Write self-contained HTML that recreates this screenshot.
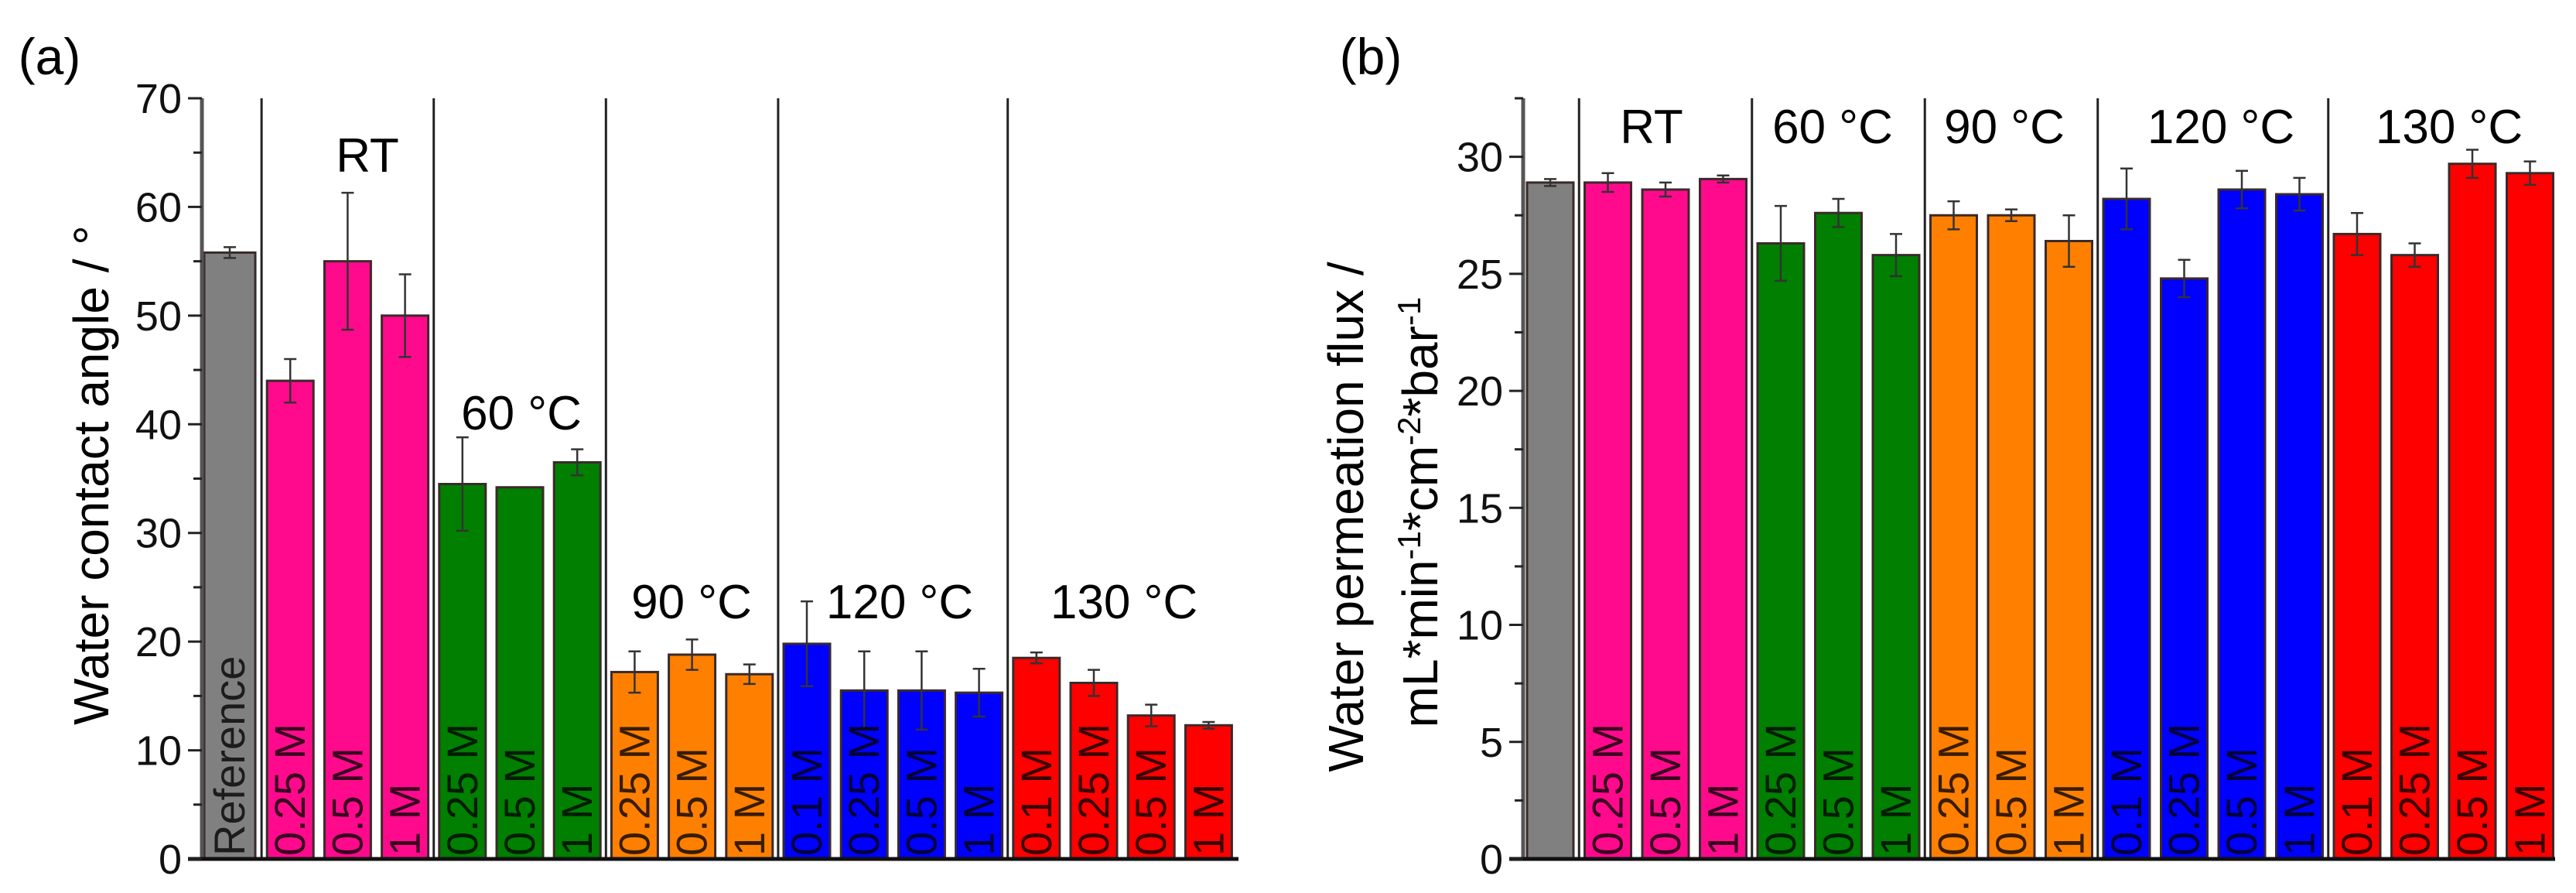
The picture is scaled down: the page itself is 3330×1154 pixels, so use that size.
<!DOCTYPE html>
<html><head><meta charset="utf-8"><style>
html,body{margin:0;padding:0;background:#fff;width:3330px;height:1154px;overflow:hidden}
svg{display:block;font-family:"Liberation Sans",Arial,sans-serif}
</style></head><body>
<svg id="fig" width="3330" height="1154" viewBox="0 0 3330 1154" xmlns="http://www.w3.org/2000/svg"></svg>
<script>
const categories = ["Reference","0.25 M","0.5 M","1 M","0.25 M","0.5 M","1 M","0.25 M","0.5 M","1 M","0.1 M","0.25 M","0.5 M","1 M","0.1 M","0.25 M","0.5 M","1 M"];
const groupColors = ["#808080","#ff0a8c","#ff0a8c","#ff0a8c","#007f00","#007f00","#007f00","#ff8000","#ff8000","#ff8000","#0000ff","#0000ff","#0000ff","#0000ff","#ff0000","#ff0000","#ff0000","#ff0000"];
const angleValues = [55.8,44,55,50,34.5,34.2,36.5,17.2,18.8,17,19.8,15.5,15.5,15.3,18.5,16.2,13.2,12.3];
const angleErrors = [0.5,2,6.3,3.8,4.3,0,1.2,1.9,1.4,0.9,3.9,3.6,3.6,2.2,0.5,1.2,1,0.3];
const fluxValues = [28.9,28.9,28.6,29.05,26.3,27.6,25.8,27.5,27.5,26.4,28.2,24.8,28.6,28.4,26.7,25.8,29.7,29.3];
const fluxErrors = [0.15,0.4,0.3,0.15,1.6,0.6,0.9,0.6,0.25,1.1,1.3,0.8,0.8,0.7,0.9,0.5,0.6,0.5];
const angleTicks = [0,10,20,30,40,50,60,70];
const fluxTicks = [0,5,10,15,20,25,30];
const groupNames = ["RT","60 °C","90 °C","120 °C","130 °C"];
const dividerAfter = [0,3,6,9,13];

const NS="http://www.w3.org/2000/svg";
const svg=document.getElementById('fig');
function mk(tag,attrs,parent){const e=document.createElementNS(NS,tag);for(const k in attrs)e.setAttribute(k,attrs[k]);(parent||svg).appendChild(e);return e;}

function panel(cfg){
  const g=mk('g',{});
  
  
  const y=v=>cfg.y0-(v-0)*(cfg.y0-cfg.yTopPx)/cfg.yMax;
  const xc=i=>cfg.c0+cfg.step*i;
  // dividers
  dividerAfter.forEach((d,k)=>{
    const xd=(xc(d)+xc(d+1))/2;
    const l=mk('line',{x1:xd,x2:xd,y1:cfg.yTopPx,y2:cfg.y0,stroke:'#222','stroke-width':3},g);
    
    
  });
  // bars
  cfg.vals.forEach((v,i)=>{
    const w=(i===0&&cfg.wideRef)?66:60;
    const x0=(i===0&&cfg.wideRef)?cfg.axisX+3:xc(i)-w/2;
    const r=mk('rect',{x:x0,y:y(v),width:w,height:cfg.y0-y(v),fill:groupColors[i],stroke:'#3a2a2a','stroke-width':3},g);
    
    
    const cx=x0+w/2;
    const e=cfg.errs[i];
    if(e>0){
      const eb=mk('path',{d:`M${cx},${y(v+e)}V${y(v-e)}M${cx-8},${y(v+e)}H${cx+8}M${cx-8},${y(v-e)}H${cx+8}`,stroke:'#333','stroke-width':2.5,fill:'none'},g);
      
      
    }
    if(i>0||cfg.refLabel){
      const t=mk('text',{x:0,y:0,transform:`translate(${cx+19},${cfg.y0-4}) rotate(-90)`,'font-size':56,fill:'#000','fill-opacity':0.78},g);
      t.textContent=categories[i];
      
      
    }
  });
  // axes
  const ax=mk('line',{x1:cfg.axisX,x2:cfg.axisX,y1:cfg.yTopPx,y2:cfg.y0,stroke:'#555','stroke-width':5},g);
  
  
  const bx=mk('line',{x1:cfg.axisX-18,x2:cfg.xEnd,y1:cfg.y0,y2:cfg.y0,stroke:'#111','stroke-width':5},g);
  
  
  cfg.ticks.forEach(v=>{
    const tk=mk('line',{x1:cfg.axisX-18,x2:cfg.axisX,y1:y(v),y2:y(v),stroke:'#222','stroke-width':3},g);
    
    
    const mv=v+cfg.minor;
    if(mv<=cfg.yMax+0.01){
      const mt=mk('line',{x1:cfg.axisX-11,x2:cfg.axisX,y1:y(mv),y2:y(mv),stroke:'#222','stroke-width':3},g);
      
      
    }
    const tl=mk('text',{x:cfg.axisX-26,y:y(v)+19,'font-size':54,'text-anchor':'end',fill:'#111'},g);
    tl.textContent=v;
    
    
  });
  // group labels
  groupNames.forEach((n,k)=>{
    const t=mk('text',{x:cfg.groupPos[k][0],y:cfg.groupPos[k][1]+22,'font-size':62,'text-anchor':'middle',fill:'#000'},g);
    t.textContent=n;
    
    
  });
  const pl=mk('text',{x:cfg.panelLabel[0],y:cfg.panelLabel[1]+22,'font-size':66,'text-anchor':'middle',fill:'#000'},g);
  pl.textContent=cfg.panelText;
  
  
  cfg.titles.forEach(tt=>{
    const t=mk('text',{x:0,y:0,transform:`translate(${tt[1]},${tt[2]}) rotate(-90)`,'font-size':64,'text-anchor':'middle',fill:'#000'},g);
    t.innerHTML=tt[0];
    
    
  });
}

panel({name:'panel-a-contact-angle',axisX:261,xEnd:1601,y0:1110,yTopPx:127,yMax:70,c0:301,step:74.2,
  vals:angleValues,errs:angleErrors,ticks:angleTicks,minor:5,wideRef:true,refLabel:true,
  groupPos:[[475,200],[674,533],[894,777],[1163,777],[1453,777]],panelLabel:[64,74],panelText:'(a)',
  titles:[['Water contact angle / °',140,614]]});
panel({name:'panel-b-water-flux',axisX:1969,xEnd:3303,y0:1110,yTopPx:127,yMax:32.5,c0:2004,step:74.5,
  vals:fluxValues,errs:fluxErrors,ticks:fluxTicks,minor:2.5,wideRef:false,refLabel:false,
  groupPos:[[2135,163],[2369,163],[2591,163],[2871,163],[3166,163]],panelLabel:[1772,74],panelText:'(b)',
  titles:[['Water permeation flux /',1762,668],['mL*min<tspan dy="-22" font-size="42">-1</tspan><tspan dy="22">*cm</tspan><tspan dy="-22" font-size="42">-2</tspan><tspan dy="22">*bar</tspan><tspan dy="-22" font-size="42">-1</tspan>',1858,662]]});
</script>
</body></html>
